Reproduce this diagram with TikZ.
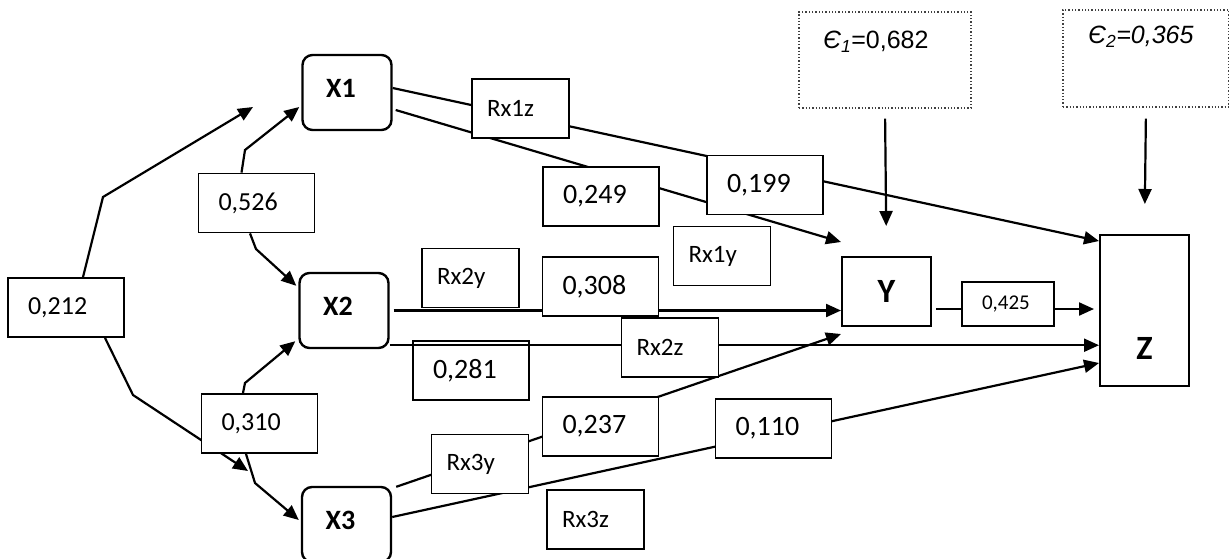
\documentclass[tikz,border=0pt]{standalone}
\usepackage{fontspec}
\setmainfont{Carlito}
\newfontfamily\arialf{Liberation Sans}
\usetikzlibrary{arrows.meta,backgrounds}

\begin{document}
\begin{tikzpicture}[x=1pt, y=-1pt, var/.style={draw, line width=2.4pt, rounded corners=10pt, minimum width=89pt, minimum height=75pt, inner sep=0pt, text depth=8pt, execute at end node={\kern12pt}, font=\fontsize{28}{32}\selectfont\bfseries}, outc/.style={draw, line width=2pt, minimum width=89pt, inner sep=0pt, font=\fontsize{34}{38}\selectfont\bfseries}, coef/.style={draw, fill=white, line width=1.8pt, minimum height=59pt, inner xsep=20pt, inner ysep=0pt, text width=76pt, align=left, font=\fontsize{28}{32}\selectfont}, rx/.style={coef, inner xsep=15pt, text width=67pt, font=\fontsize{25}{30}\selectfont}, err/.style={draw=black!75, dotted, line width=1.3pt, inner sep=0pt}, errtext/.style={font=\arialf\fontsize{25}{30}\selectfont}, arr/.style={-{Triangle[length=15pt,width=13pt]}, line width=2.2pt}]
\useasboundingbox (0,0) rectangle (1229,558);
\node[var] (X1) at (347,92.5) {X1};
\node[var] (X2) at (344,310.5) {X2};
\node[var] (X3) at (346.5,524.5) {X3};
\node[outc, minimum height=69pt] (Y) at (886.5,291.5) {Y};
\node[outc, minimum height=151pt, label={[font=\fontsize{34}{38}\selectfont\bfseries, yshift=-38pt]center:Z}] (Z) at (1144.5,310.5) {};
\node[err, minimum width=172pt, minimum height=96pt, label={[errtext, xshift=-9pt, yshift=18pt]center:{{\itshape Є\textsubscript{1}}=0,682}}] (E1) at (885,60) {};
\node[err, minimum width=166pt, minimum height=97pt, label={[errtext, xshift=-5pt, yshift=21.5pt]center:{\itshape Є\textsubscript{2}=0,365}}] (E2) at (1146,58.5) {};
\node[coef, font=\fontsize{26}{30}\selectfont] (r212) at (66,307.5) {0,212};
\node[coef, font=\fontsize{26}{30}\selectfont] (r526) at (256.5,203) {0,526};
\node[coef, font=\fontsize{26}{30}\selectfont] (r310) at (259.5,423.5) {0,310};
\node[coef] (r249) at (601,196.5) {0,249};
\node[coef] (r199) at (765,185) {0,199};
\node[coef] (r308) at (600.5,286.5) {0,308};
\node[coef, fill=none] (r281) at (471,370.5) {0,281};
\node[coef] (r237) at (600.5,426.5) {0,237};
\node[coef] (r110) at (773.5,428.5) {0,110};
\node[coef, minimum height=44pt, text width=52pt, font=\fontsize{21}{25}\selectfont] (r425) at (1008,304) {0,425};
\node[rx] (rx1z) at (520.5,108.5) {Rx1z};
\node[rx] (rx1y) at (722,256) {Rx1y};
\node[rx] (rx2y) at (470.5,278) {Rx2y};
\node[rx] (rx2z) at (670,347.5) {Rx2z};
\node[rx] (rx3y) at (480,464) {Rx3y};
\node[rx] (rx3z) at (595.5,519.5) {Rx3z};
\coordinate (x1in) at (253,107);
\coordinate (x3in) at (248,471);
\coordinate (x2z) at ([yshift=4pt]X2.south east);
\coordinate (yz) at ([xshift=4pt,yshift=-17.5pt]Y.east);
\begin{scope}[on background layer]
\draw[arr] ([xshift=17pt]r212.north) -- (103,197) -- (x1in);
\draw[arr] ([xshift=39pt]r212.south) -- (133,395) -- (x3in);
\draw[arr] ([xshift=-15pt]r526.north) -- (245,150) -- ([xshift=-2pt,yshift=-14.5pt]X1.west);
\draw[arr] ([xshift=-6.5pt]r526.south) -- (256,249) -- ([xshift=-2pt,yshift=-14pt]X2.north west);
\draw[arr] ([xshift=-16.5pt]r310.north) -- (245,383) -- ([xshift=-3pt,yshift=8pt]X2.south west);
\draw[arr] ([xshift=-13.5pt]r310.south) -- (255,483) -- ([xshift=-2pt,yshift=4.5pt]X3.west);
\draw[arr] ([yshift=4.5pt]X1.east) -- ([yshift=-7pt]Z.north west);
\draw[arr] ([xshift=3pt,yshift=-17.5pt]X1.east) -- ([yshift=14pt]Y.north west);
\draw[arr] ([xshift=4pt]X2.east) -- (X2.east -| Y.west);
\draw[arr] (x2z) -- (x2z -| Z.west);
\draw[arr] ([xshift=4pt,yshift=-1pt]X3.north east) -- ([yshift=-7pt]Y.south west);
\draw[arr] ([yshift=7.5pt]X3.east) -- ([yshift=24pt]Z.south west);
\draw[arr, shorten >=5pt] (yz) -- (yz -| Z.west);
\draw[arr, shorten <=10pt, shorten >=30pt] (E1.south) -- (Y.north);
\draw[arr, shorten <=11pt, shorten >=30pt] (E2.south) -- (Z.north);
\end{scope}
\end{tikzpicture}
\end{document}
